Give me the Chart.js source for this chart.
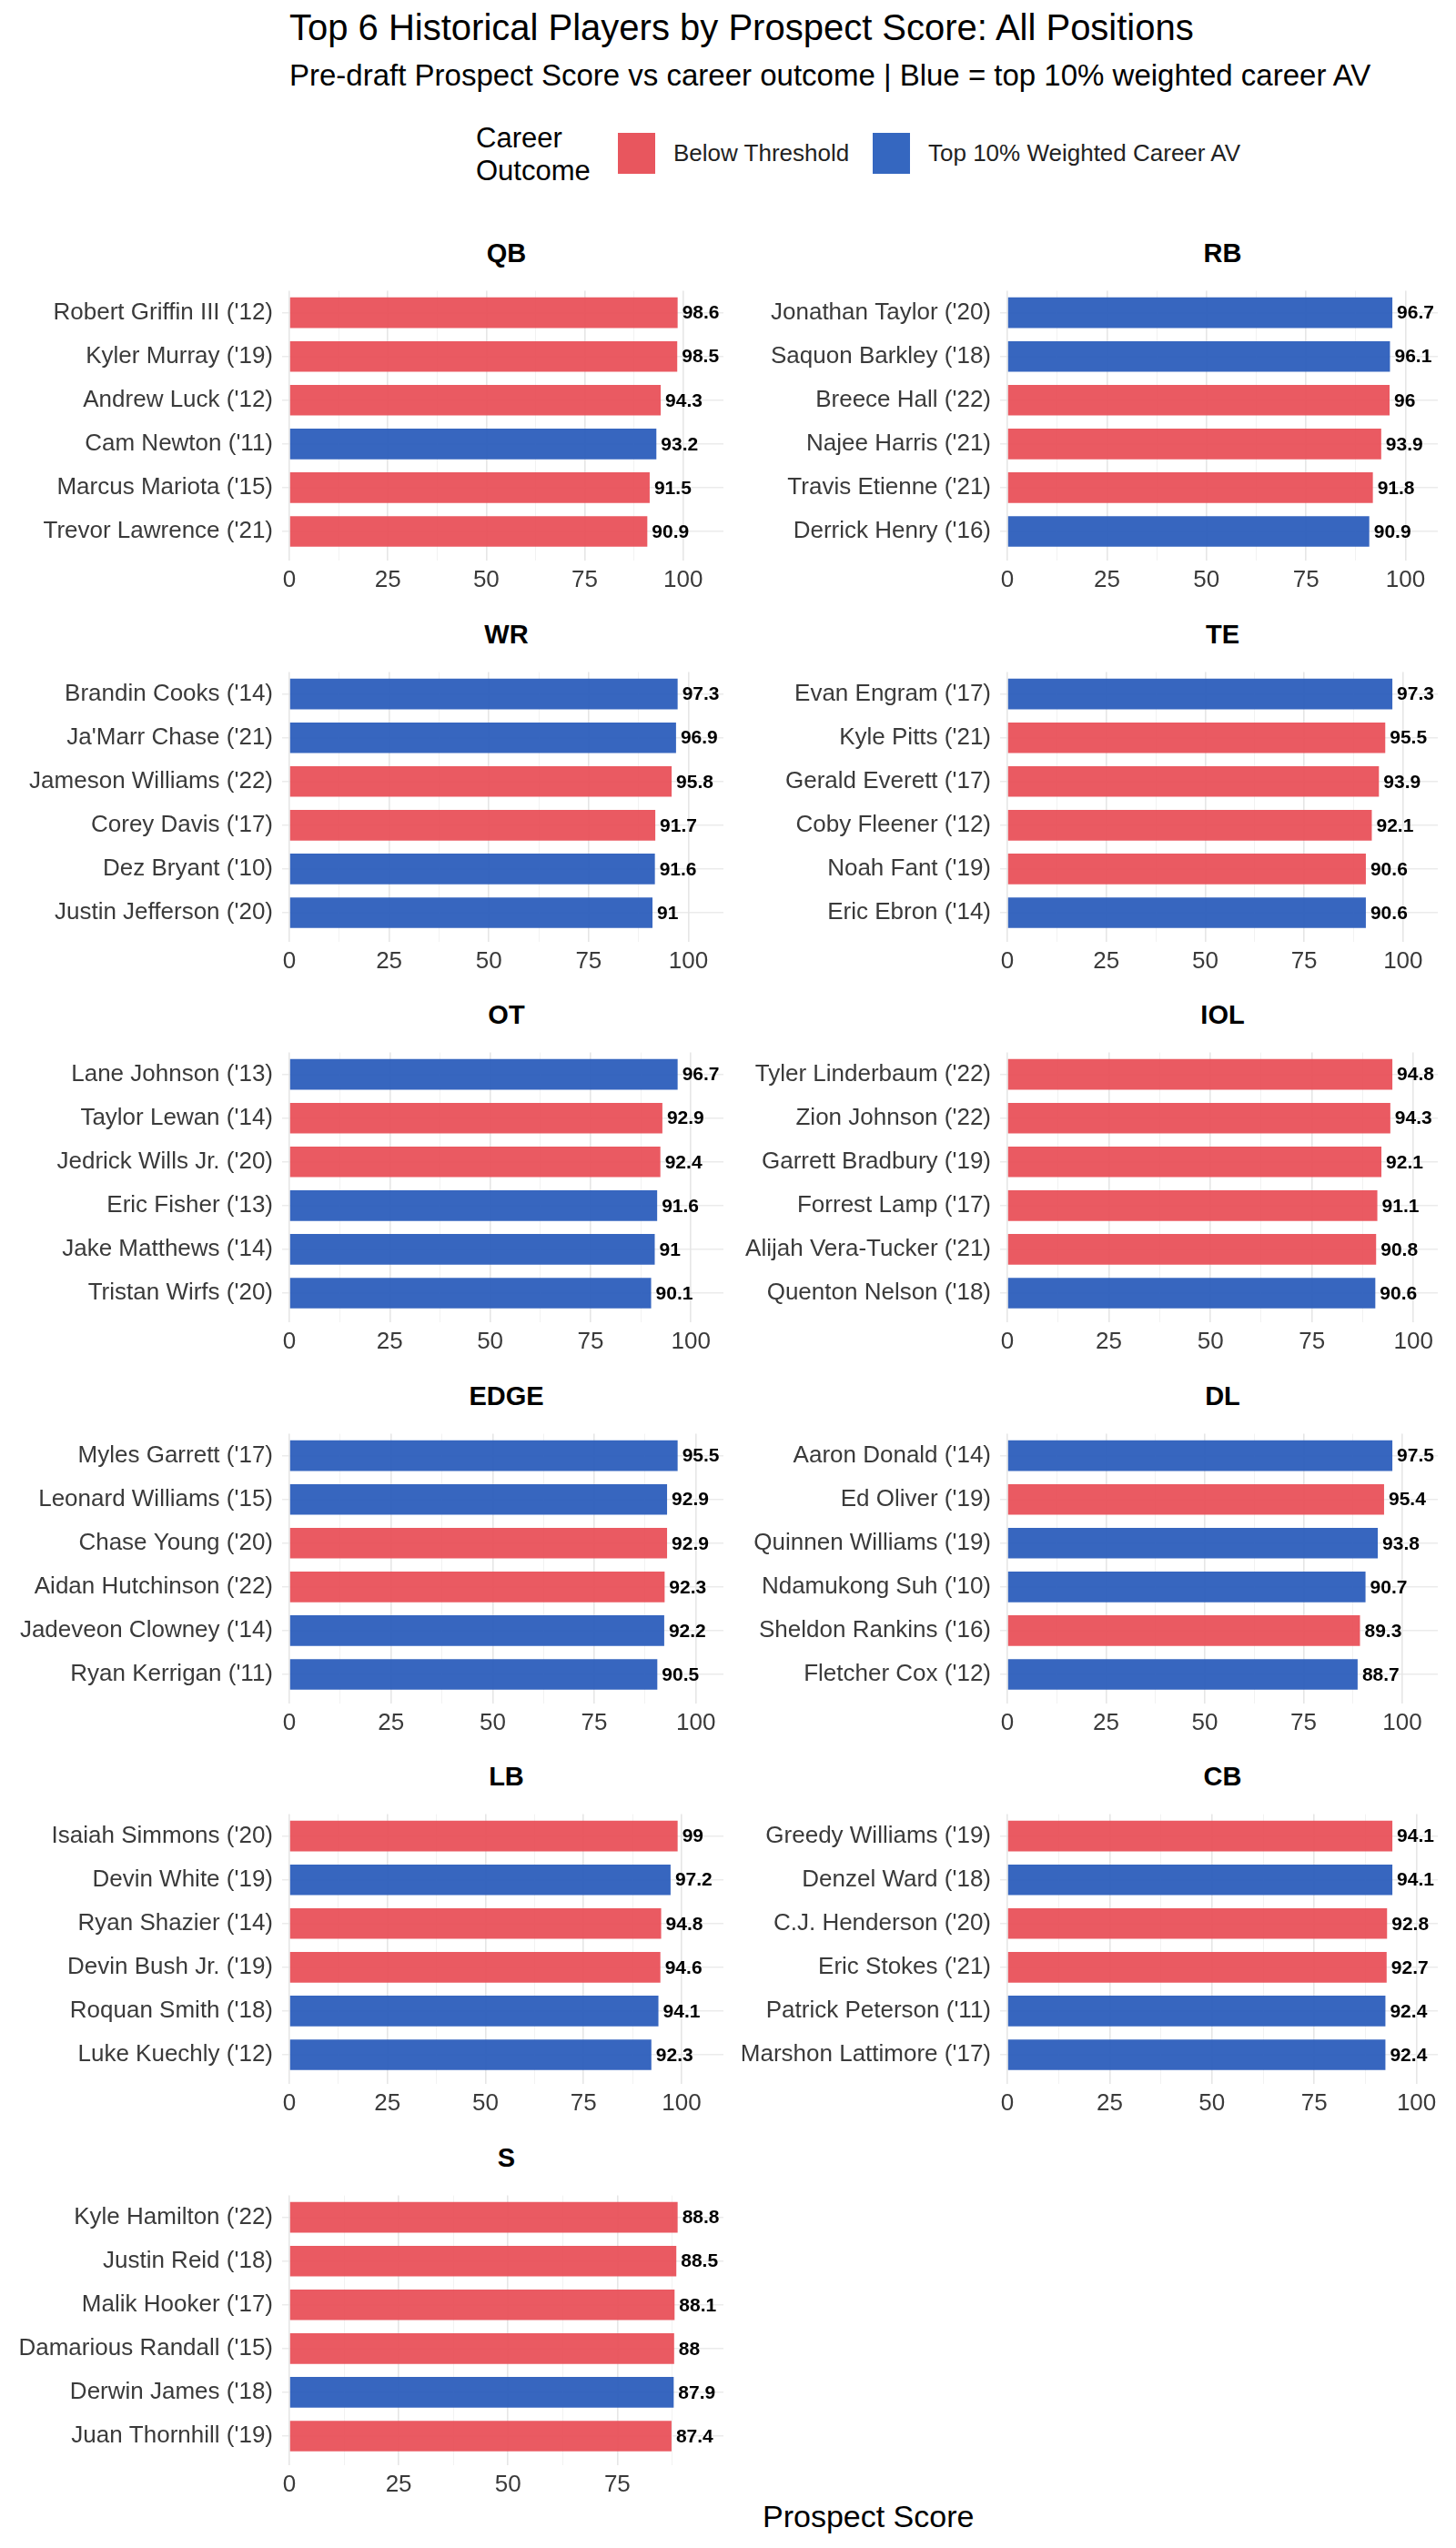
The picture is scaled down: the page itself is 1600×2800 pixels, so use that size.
<!DOCTYPE html>
<html><head><meta charset="utf-8">
<script src="https://cdn.jsdelivr.net/npm/chart.js@4.4.0/dist/chart.umd.min.js"></script>
<style>
body{margin:0;background:#fff;width:1600px;height:2800px;position:relative;font-family:"Liberation Sans",Arial,sans-serif;overflow:hidden}
.t{position:absolute;white-space:nowrap;color:#000}
canvas{position:absolute}
</style></head><body>
<div class="t" style="left:318px;top:8px;font-size:40px">Top 6 Historical Players by Prospect Score: All Positions</div>
<div class="t" style="left:318px;top:64px;font-size:33px">Pre-draft Prospect Score vs career outcome | Blue = top 10% weighted career AV</div>
<div class="t" style="left:523px;top:134px;font-size:31px;line-height:36px">Career<br>Outcome</div>
<div style="position:absolute;left:679px;top:146px;width:41px;height:45px;background:#E8565E"></div>
<div class="t" style="left:740px;top:153px;font-size:26px;color:#222">Below Threshold</div>
<div style="position:absolute;left:959px;top:146px;width:41px;height:45px;background:#3567C0"></div>
<div class="t" style="left:1020px;top:153px;font-size:26px;color:#222">Top 10% Weighted Career AV</div>
<div class="t" style="left:838px;top:2746px;font-size:34px">Prospect Score</div>
<div id="wrap"></div>
<script>
const positions = ["QB","RB","WR","TE","OT","IOL","EDGE","DL","LB","CB","S"];
const players = [
 ["Robert Griffin III ('12)","Kyler Murray ('19)","Andrew Luck ('12)","Cam Newton ('11)","Marcus Mariota ('15)","Trevor Lawrence ('21)"],
 ["Jonathan Taylor ('20)","Saquon Barkley ('18)","Breece Hall ('22)","Najee Harris ('21)","Travis Etienne ('21)","Derrick Henry ('16)"],
 ["Brandin Cooks ('14)","Ja'Marr Chase ('21)","Jameson Williams ('22)","Corey Davis ('17)","Dez Bryant ('10)","Justin Jefferson ('20)"],
 ["Evan Engram ('17)","Kyle Pitts ('21)","Gerald Everett ('17)","Coby Fleener ('12)","Noah Fant ('19)","Eric Ebron ('14)"],
 ["Lane Johnson ('13)","Taylor Lewan ('14)","Jedrick Wills Jr. ('20)","Eric Fisher ('13)","Jake Matthews ('14)","Tristan Wirfs ('20)"],
 ["Tyler Linderbaum ('22)","Zion Johnson ('22)","Garrett Bradbury ('19)","Forrest Lamp ('17)","Alijah Vera-Tucker ('21)","Quenton Nelson ('18)"],
 ["Myles Garrett ('17)","Leonard Williams ('15)","Chase Young ('20)","Aidan Hutchinson ('22)","Jadeveon Clowney ('14)","Ryan Kerrigan ('11)"],
 ["Aaron Donald ('14)","Ed Oliver ('19)","Quinnen Williams ('19)","Ndamukong Suh ('10)","Sheldon Rankins ('16)","Fletcher Cox ('12)"],
 ["Isaiah Simmons ('20)","Devin White ('19)","Ryan Shazier ('14)","Devin Bush Jr. ('19)","Roquan Smith ('18)","Luke Kuechly ('12)"],
 ["Greedy Williams ('19)","Denzel Ward ('18)","C.J. Henderson ('20)","Eric Stokes ('21)","Patrick Peterson ('11)","Marshon Lattimore ('17)"],
 ["Kyle Hamilton ('22)","Justin Reid ('18)","Malik Hooker ('17)","Damarious Randall ('15)","Derwin James ('18)","Juan Thornhill ('19)"]
];
const scores = [
 [98.6,98.5,94.3,93.2,91.5,90.9],
 [96.7,96.1,96,93.9,91.8,90.9],
 [97.3,96.9,95.8,91.7,91.6,91],
 [97.3,95.5,93.9,92.1,90.6,90.6],
 [96.7,92.9,92.4,91.6,91,90.1],
 [94.8,94.3,92.1,91.1,90.8,90.6],
 [95.5,92.9,92.9,92.3,92.2,90.5],
 [97.5,95.4,93.8,90.7,89.3,88.7],
 [99,97.2,94.8,94.6,94.1,92.3],
 [94.1,94.1,92.8,92.7,92.4,92.4],
 [88.8,88.5,88.1,88,87.9,87.4]
];
const elite = [
 [0,0,0,1,0,0],[1,1,0,0,0,1],[1,1,0,0,1,1],[1,0,0,0,0,1],[1,0,0,1,1,1],[0,0,0,0,0,1],
 [1,1,0,0,1,1],[1,0,1,1,0,1],[0,1,0,0,1,1],[0,1,0,0,1,1],[0,0,0,0,1,0]
];
const outcomeColors = ["rgba(232,78,86,0.93)","rgba(44,94,188,0.95)"];

const labelPlugin = {id:'vals',afterDatasetsDraw(chart){
  const ctx=chart.ctx, meta=chart.getDatasetMeta(0), data=chart.data.datasets[0].data;
  ctx.save();ctx.font='bold 21px "Liberation Sans", Arial';ctx.fillStyle='#000';ctx.textBaseline='middle';ctx.textAlign='left';
  meta.data.forEach((b,i)=>ctx.fillText(String(data[i]),b.x+5,b.y+1));ctx.restore();}};

const wrap=document.getElementById('wrap');
positions.forEach((pos,i)=>{
  const col=i%2,row=Math.floor(i/2);
  const titleY=280+418.5*row;
  const leftX=col?800:0;
  const axisW=col?307:318;
  const plotR=col?1580:795;
  const t=document.createElement('div');t.className='t';
  t.style.cssText=`left:${leftX+axisW}px;width:${plotR-leftX-axisW}px;text-align:center;top:${titleY-18}px;font-size:29px;font-weight:bold`;
  t.textContent=pos;wrap.appendChild(t);
  const c=document.createElement('canvas');
  c.style.left=leftX+'px';c.style.top=(titleY+14)+'px';c.style.width='800px';c.style.height='364px';
  wrap.appendChild(c);
  const mx=Math.max(...scores[i])*1.118;
  new Chart(c,{type:'bar',
    data:{labels:players[i],datasets:[{data:scores[i],backgroundColor:elite[i].map(e=>outcomeColors[e]),barPercentage:0.7,categoryPercentage:1}]},
    options:{indexAxis:'y',responsive:false,animation:false,devicePixelRatio:1,
      layout:{padding:{top:10,right:800-(plotR-leftX),left:0,bottom:0}},
      plugins:{legend:{display:false},tooltip:{enabled:false}},
      scales:{
        y:{afterFit:s=>{s.width=axisW;},border:{display:false},
          grid:{color:'#ebebeb',lineWidth:1.5,offset:false},
          ticks:{color:'#3a3a3a',font:{size:26,family:'"Liberation Sans", Arial'},padding:10}},
        x:{min:0,max:mx,afterFit:s=>{s.height=50;},border:{display:false},
          afterBuildTicks:s=>{s.ticks=[];for(let v=0;v<=mx;v+=12.5)s.ticks.push({value:v});},
          grid:{color:ctx=>(ctx.tick&&ctx.tick.value%25===0)?'#e6e6e6':'#f2f2f2',lineWidth:ctx=>(ctx.tick&&ctx.tick.value%25===0)?1.6:1},
          ticks:{color:'#3a3a3a',font:{size:26,family:'"Liberation Sans", Arial'},padding:6,maxRotation:0,autoSkip:false,
            callback:v=>v%25===0?v:''}}
      }},
    plugins:[labelPlugin]});
});
</script></body></html>
